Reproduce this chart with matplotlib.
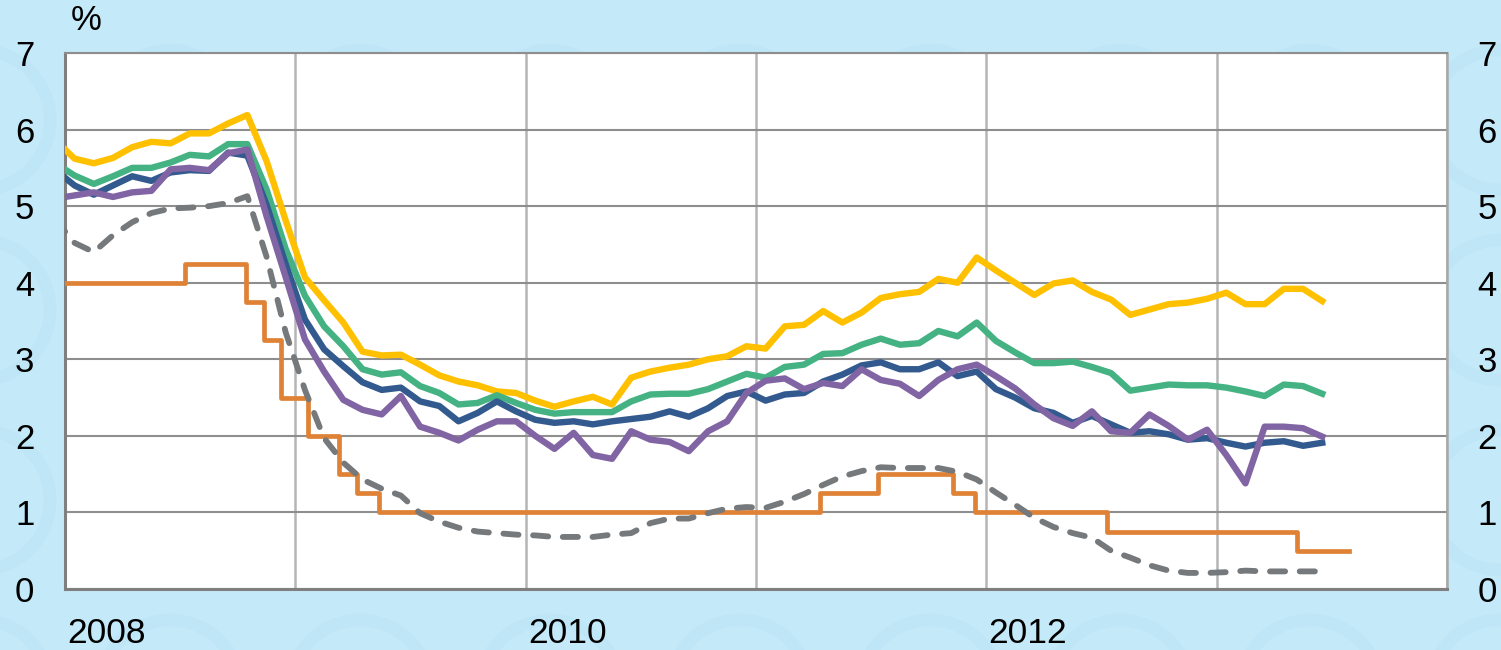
import numpy as np
import pandas as pd
import matplotlib.pyplot as plt
from matplotlib.patches import Circle

plt.rcParams['font.family'] = ['Liberation Sans', 'DejaVu Sans']

# monthly observations, Dec 2007 .. Jun 2013 (Dec 2007 falls just left of the axis)
months = pd.date_range('2007-12-01', '2013-06-01', freq='MS')

yellow = [5.86,
          5.62, 5.56, 5.63, 5.77, 5.84, 5.82, 5.95, 5.95, 6.08, 6.19, 5.59, 4.81,
          4.07, 3.77, 3.48, 3.10, 3.05, 3.06, 2.93, 2.79, 2.71, 2.66, 2.58, 2.56,
          2.46, 2.38, 2.45, 2.51, 2.41, 2.76, 2.84, 2.89, 2.93, 3.00, 3.04, 3.17,
          3.14, 3.43, 3.45, 3.63, 3.48, 3.61, 3.80, 3.85, 3.88, 4.05, 4.00, 4.33,
          4.16, 4.00, 3.84, 3.99, 4.03, 3.88, 3.78, 3.58, 3.65, 3.72, 3.74, 3.79,
          3.87, 3.72, 3.72, 3.92, 3.92, 3.76]
green = [5.56,
         5.40, 5.29, 5.39, 5.50, 5.50, 5.57, 5.67, 5.65, 5.81, 5.81, 5.22, 4.44,
         3.83, 3.43, 3.17, 2.87, 2.80, 2.83, 2.65, 2.56, 2.41, 2.43, 2.53, 2.43,
         2.34, 2.29, 2.31, 2.31, 2.31, 2.45, 2.54, 2.55, 2.55, 2.61, 2.71, 2.81,
         2.76, 2.90, 2.93, 3.07, 3.08, 3.19, 3.27, 3.19, 3.21, 3.37, 3.30, 3.48,
         3.24, 3.09, 2.95, 2.95, 2.97, 2.90, 2.82, 2.59, 2.63, 2.67, 2.66, 2.66,
         2.63, 2.58, 2.52, 2.67, 2.65, 2.55]
blue = [5.47,
        5.27, 5.15, 5.27, 5.39, 5.33, 5.44, 5.47, 5.46, 5.70, 5.66, 5.02, 4.24,
        3.52, 3.13, 2.91, 2.70, 2.60, 2.63, 2.45, 2.39, 2.19, 2.30, 2.45, 2.32,
        2.21, 2.17, 2.19, 2.15, 2.19, 2.22, 2.25, 2.32, 2.25, 2.36, 2.52, 2.58,
        2.46, 2.54, 2.56, 2.71, 2.80, 2.92, 2.96, 2.87, 2.87, 2.96, 2.78, 2.84,
        2.61, 2.50, 2.36, 2.30, 2.17, 2.26, 2.15, 2.04, 2.06, 2.02, 1.95, 1.97,
        1.91, 1.86, 1.91, 1.93, 1.87, 1.91]
purple = [5.10,
          5.14, 5.18, 5.12, 5.18, 5.20, 5.48, 5.50, 5.47, 5.69, 5.74, 4.87, 4.07,
          3.26, 2.84, 2.47, 2.34, 2.28, 2.52, 2.12, 2.04, 1.94, 2.08, 2.19, 2.19,
          2.00, 1.83, 2.04, 1.75, 1.70, 2.06, 1.95, 1.92, 1.80, 2.06, 2.19, 2.56,
          2.72, 2.75, 2.61, 2.69, 2.65, 2.87, 2.73, 2.68, 2.52, 2.73, 2.87, 2.93,
          2.78, 2.62, 2.41, 2.23, 2.13, 2.32, 2.06, 2.04, 2.28, 2.13, 1.95, 2.08,
          1.75, 1.38, 2.12, 2.12, 2.10, 1.99]
gray = [4.82,
        4.52, 4.40, 4.62, 4.79, 4.91, 4.97, 4.98, 5.00, 5.04, 5.13, 4.34, 3.35,
        2.60, 1.97, 1.65, 1.43, 1.31, 1.22, 0.99, 0.88, 0.80, 0.75, 0.73, 0.71,
        0.70, 0.68, 0.68, 0.68, 0.71, 0.73, 0.86, 0.92, 0.92, 0.99, 1.05, 1.07,
        1.06, 1.14, 1.24, 1.36, 1.47, 1.54, 1.59, 1.58, 1.58, 1.58, 1.53, 1.43,
        1.26, 1.10, 0.93, 0.81, 0.73, 0.67, 0.50, 0.41, 0.31, 0.24, 0.21, 0.21,
        0.22, 0.24, 0.23, 0.23, 0.23, 0.23]

# policy rate changes
rate_dates = ['2008-01-01', '2008-07-09', '2008-10-15', '2008-11-12', '2008-12-10',
              '2009-01-21', '2009-03-11', '2009-04-08', '2009-05-13', '2011-04-13',
              '2011-07-13', '2011-11-09', '2011-12-14', '2012-07-11', '2013-05-08',
              '2013-07-29']
rate_vals = [4.00, 4.25, 3.75, 3.25, 2.50, 2.00, 1.50, 1.25, 1.00, 1.25,
             1.50, 1.25, 1.00, 0.75, 0.50, 0.50]

year_labels = ['2008', '2010', '2012']


def frac_year(d):
    d = pd.DatetimeIndex(d)
    days = np.where(d.is_leap_year, 366, 365)
    return d.year + (d.dayofyear - 1) / days


t = months.year + (months.month - 0.5) / 12
t_rate = frac_year(pd.to_datetime(rate_dates))

fig = plt.figure(figsize=(15.01, 6.5), dpi=100, facecolor='#C4E9F9')

# faint coin pattern in the background
for cx in np.arange(-20, 1560, 190):
    for cy in np.arange(-40, 700, 190):
        fig.patches.append(Circle((cx, cy), 70, transform=None, fill=False,
                                  ec='#B6E1F4', lw=9, alpha=0.35, zorder=-5))

ax = fig.add_axes([65 / 1501, 61 / 650, 1382 / 1501, 536 / 650])
ax.set_facecolor('white')

ax.step(t_rate, rate_vals, where='post', color='#DF8236', lw=3.4, zorder=3)
ax.plot(t, gray, color='#75797C', lw=4.2, dashes=(2.6, 2.5),
        dash_capstyle='round', zorder=4)
ax.plot(t, yellow, color='#FFC000', lw=4.6, zorder=5)
ax.plot(t, green, color='#44B283', lw=4.6, zorder=5)
ax.plot(t, blue, color='#335A8E', lw=4.6, zorder=6)
ax.plot(t, purple, color='#8164A3', lw=4.6, zorder=7)

ax.set_xlim(2008, 2014)
ax.set_ylim(0, 7)

ax.set_xticks(range(2008, 2015))
ax.set_xticks([int(y) + 0.18 for y in year_labels], minor=True)
ax.set_xticklabels(year_labels, minor=True)
ax.tick_params(axis='x', which='major', length=0, labelbottom=False)
ax.tick_params(axis='x', which='minor', length=0, labelsize=25.5, pad=20)
ax.set_yticks(range(0, 8))
ax.tick_params(axis='y', length=0, labelsize=25, labelright=True, pad=22)

ax.grid(axis='x', which='major', color='#B5B5B5', lw=1.8)
ax.grid(axis='y', color='#8E8E8E', lw=1.5)
ax.set_axisbelow(True)

for side in ['left', 'bottom']:
    ax.spines[side].set_color('#7F7F7F')
    ax.spines[side].set_linewidth(2.2)
ax.spines['top'].set_color('#8E8E8E')
ax.spines['top'].set_linewidth(1.5)
ax.spines['right'].set_color('#A8A8A8')
ax.spines['right'].set_linewidth(1.8)

fig.text(86 / 1501, 1 - 21 / 650, '%', ha='center', va='center', fontsize=25)

fig.savefig('out.png', dpi=100, facecolor=fig.get_facecolor())
